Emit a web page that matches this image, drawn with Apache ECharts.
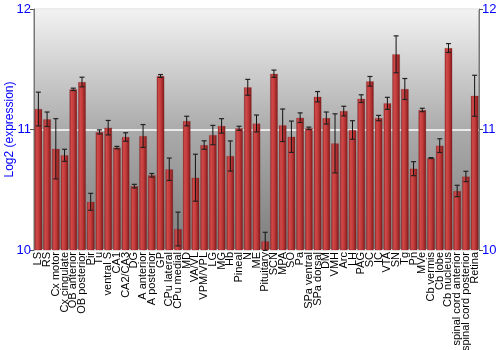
<!DOCTYPE html>
<html>
<head>
<meta charset="utf-8">
<script src="https://cdn.jsdelivr.net/npm/echarts@6/dist/echarts.min.js"></script>
<style>html,body{margin:0;padding:0;background:#fff}#c{width:500px;height:350px}</style>
</head>
<body>
<div id="c"></div>
<script>
const categories = ["LS","RS","Cx motor","Cx cingulate","OB anterior","OB posterior","Pir","Tu","ventral S","CA1","CA2/CA3","DG","A anterior","A posterior","GP","CPu lateral","CPu medial","MD","VA/VL","VPM/VPL","LG","MG","Hb","Pineal","N","ME","Pituitary","SCN","MPA","SO","Pa","SPa ventral","SPa dorsal","DM","VMH","Arc","LH","PAG","SC","IC","VTA","SN","Tg","Pn","MVe","Cb vermis","Cb lobe","Cb nucleus","spinal cord anterior","spinal cord posterior","Retina"];
const values = [11.17,11.085,10.84,10.786,11.333,11.394,10.40,10.98,11.015,10.85,10.938,10.53,10.946,10.62,11.444,10.67,10.174,11.07,10.60,10.871,10.954,11.03,10.78,11.01,11.35,11.05,10.072,11.463,11.035,10.94,11.098,11.01,11.272,11.095,10.885,11.153,10.996,11.256,11.40,11.095,11.217,11.624,11.336,10.675,11.162,10.763,10.866,11.676,10.49,10.61,11.28];
const errors = [0.14,0.06,0.25,0.05,0.01,0.04,0.07,0.017,0.06,0.01,0.035,0.015,0.095,0.015,0.012,0.093,0.14,0.04,0.195,0.035,0.08,0.06,0.125,0.017,0.066,0.07,0.075,0.03,0.135,0.13,0.04,0.01,0.043,0.05,0.245,0.04,0.077,0.032,0.04,0.022,0.05,0.153,0.087,0.058,0.014,0.004,0.057,0.037,0.047,0.043,0.17];
const yTicks = [10, 11, 12];

const errData = values.map((v, i) => [i, v - errors[i], v + errors[i]]);
const chart = echarts.init(document.getElementById('c'), null, {renderer: 'canvas'});
const blue = '#0000ff';
const yAxisBase = {
  type: 'value', min: yTicks[0], max: yTicks[yTicks.length - 1], interval: 1,
  axisLine: {show: true, lineStyle: {color: '#777', width: 1}},
  axisTick: {show: true, length: 4, lineStyle: {color: '#555'}},
  axisLabel: {color: blue, fontSize: 13, fontFamily: 'Liberation Sans, Arial, sans-serif', margin: 3},
  splitLine: {show: false}
};
chart.setOption({
  animation: false,
  grid: {left: 34, right: 21, top: 9, bottom: 100, outerBoundsMode: 'none', containLabel: false,
    show: true, borderColor: '#777', borderWidth: 1,
    backgroundColor: new echarts.graphic.LinearGradient(0, 0, 0, 1, [
      {offset: 0, color: '#f3f3f3'}, {offset: 0.5, color: '#ababab'}, {offset: 1, color: '#7e7e7e'}])},
  xAxis: {
    type: 'category', data: categories,
    axisLine: {show: false}, axisTick: {show: false},
    axisLabel: {interval: 0, rotate: 90, color: '#000', fontSize: 11, fontFamily: 'Liberation Sans, Arial, sans-serif', margin: 2}
  },
  yAxis: [
    Object.assign({}, yAxisBase, {position: 'left', name: 'Log2 (expression)', nameLocation: 'middle', nameGap: 18,
      nameMoveOverlap: false,
      nameTextStyle: {color: blue, fontSize: 12, fontFamily: 'Liberation Sans, Arial, sans-serif'},
      splitLine: {show: true, lineStyle: {color: '#ffffff', width: 1.5}}}),
    Object.assign({}, yAxisBase, {position: 'right'})
  ],
  series: [
    {
      type: 'bar', data: values, barCategoryGap: '12%',
      itemStyle: {
        color: new echarts.graphic.LinearGradient(0, 0, 1, 0, [
          {offset: 0, color: '#8e2222'}, {offset: 0.25, color: '#d04a4a'}, {offset: 0.55, color: '#c23a3a'}, {offset: 1, color: '#7a1818'}]),
        borderColor: 'rgba(120,30,30,0.35)', borderWidth: 0.5
      }
    },
    {
      type: 'custom', data: errData, z: 5,
      renderItem: function (params, api) {
        const x = api.value(0);
        const lo = api.coord([x, api.value(1)]);
        const hi = api.coord([x, api.value(2)]);
        const w = 2.5;
        return {type: 'group', children: [
          {type: 'line', shape: {x1: lo[0], y1: lo[1], x2: hi[0], y2: hi[1]}, style: {stroke: '#111', lineWidth: 1}},
          {type: 'line', shape: {x1: lo[0] - w, y1: lo[1], x2: lo[0] + w, y2: lo[1]}, style: {stroke: '#222', lineWidth: 1.2}},
          {type: 'line', shape: {x1: hi[0] - w, y1: hi[1], x2: hi[0] + w, y2: hi[1]}, style: {stroke: '#222', lineWidth: 1.2}}
        ]};
      }
    }
  ]
});
</script>
</body>
</html>
